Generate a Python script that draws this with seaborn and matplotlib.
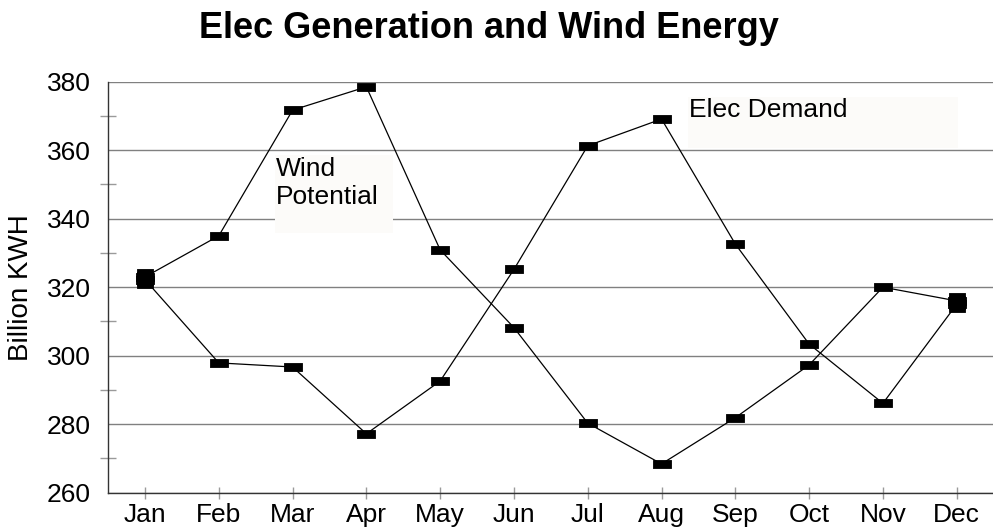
import matplotlib
matplotlib.use('Agg')
import matplotlib.pyplot as plt
from matplotlib.patches import Rectangle
from matplotlib.ticker import MultipleLocator
import seaborn as sns

# Data
months = ['Jan', 'Feb', 'Mar', 'Apr', 'May', 'Jun',
          'Jul', 'Aug', 'Sep', 'Oct', 'Nov', 'Dec']
wind_potential = [323.0, 335.0, 371.7, 378.5, 330.9, 308.2,
                  280.3, 268.4, 281.9, 297.3, 320.0, 316.0]
elec_demand = [322.2, 297.9, 296.7, 277.2, 292.6, 325.2,
               361.3, 369.1, 332.6, 303.4, 286.1, 315.0]
y_ticks = [260, 280, 300, 320, 340, 360, 380]

# Style
sns.set_style('white')
plt.rcParams['font.family'] = ['Liberation Sans', 'DejaVu Sans']
plt.rcParams['text.color'] = 'black'

fig = plt.figure(figsize=(9.93, 5.29), dpi=100)
ax = fig.add_axes([108.1 / 993, 36.3 / 529, 885.5 / 993, 411 / 529])

# wide flat rectangle marker
rect = [(-1, -0.45), (1, -0.45), (1, 0.45), (-1, 0.45), (-1, -0.45)]

for series in (wind_potential, elec_demand):
    sns.lineplot(x=months, y=series, ax=ax, color='black', lw=0.9,
                 marker=rect, markersize=12.6, mec='black', mew=0.6,
                 sort=False)
    # end points are drawn as bigger squares
    sns.scatterplot(x=[months[0], months[-1]], y=[series[0], series[-1]],
                    ax=ax, marker='s', s=125, color='black',
                    edgecolor='black', linewidth=0.6, zorder=3)

ax.set_xlim(-0.5, 11.5)
ax.set_ylim(260, 380)
ax.set_yticks(y_ticks)
ax.yaxis.set_minor_locator(MultipleLocator(10))
ax.set_xlabel('')
ax.set_ylabel('')

ax.yaxis.grid(True, color='#808080', lw=1)
ax.xaxis.grid(False)
ax.set_axisbelow(True)

for side in ('top', 'right'):
    ax.spines[side].set_visible(False)
for side in ('left', 'bottom'):
    ax.spines[side].set_color('#333333')
    ax.spines[side].set_linewidth(1)

ax.tick_params(axis='y', which='major', direction='out', length=8.6,
               width=1, color='#9a9a9a', labelsize=19, pad=4,
               labelcolor='black')
ax.tick_params(axis='y', which='minor', direction='inout', length=11.5,
               width=1, color='#9a9a9a', left=True)
ax.tick_params(axis='x', direction='inout', length=9, width=1,
               color='#9a9a9a', labelsize=19, pad=3, bottom=True,
               labelcolor='black')

# Label boxes
box_color = '#fcfbf9'
ax.add_patch(Rectangle((0.1885, 0.6318), 0.1332, 0.1894, transform=ax.transAxes,
                       facecolor=box_color, edgecolor='none', zorder=1))
ax.add_patch(Rectangle((0.6549, 0.8387), 0.3049, 0.1241, transform=ax.transAxes,
                       facecolor=box_color, edgecolor='none', zorder=1))
ax.text(0.1897, 0.8173, 'Wind\nPotential', transform=ax.transAxes,
        fontsize=19, color='black', va='top', ha='left', zorder=2)
ax.text(0.6563, 0.9596, 'Elec Demand', transform=ax.transAxes,
        fontsize=19, color='black', va='top', ha='left', zorder=2)

fig.text(489 / 993, 1 - 37.5 / 529, 'Elec Generation and Wind Energy',
         fontsize=26, fontweight='bold', ha='center', va='baseline',
         color='black')
fig.text(21 / 993, 1 - 287.5 / 529, 'Billion KWH', fontsize=20,
         rotation=90, ha='center', va='center', color='black')

fig.savefig('out.png', dpi=100)
